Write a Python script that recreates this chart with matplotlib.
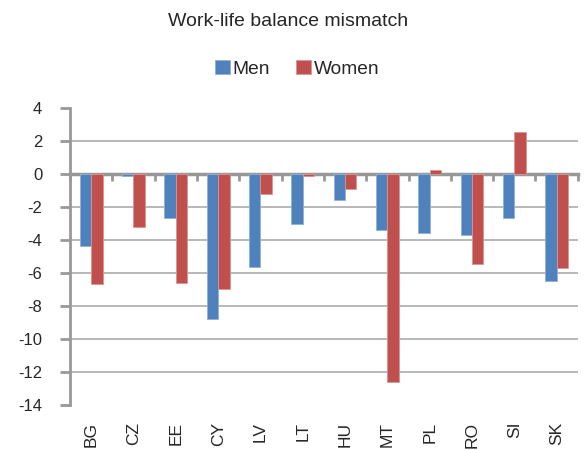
import numpy as np
import matplotlib
matplotlib.use("Agg")
import matplotlib.pyplot as plt

plt.rcParams['font.family'] = ['Liberation Sans', 'DejaVu Sans']
plt.rcParams['axes.unicode_minus'] = False

countries = ['BG', 'CZ', 'EE', 'CY', 'LV', 'LT', 'HU', 'MT', 'PL', 'RO', 'SI', 'SK']
men = [-4.37, -0.15, -2.64, -8.78, -5.62, -3.02, -1.57, -3.40, -3.60, -3.70, -2.64, -6.49]
women = [-6.67, -3.20, -6.59, -6.97, -1.21, -0.10, -0.91, -12.63, 0.22, -5.44, 2.54, -5.72]
y_ticks = list(range(-14, 5, 2))

blue = '#4F81BD'
red = '#C0504D'
axis_grey = '#989898'
text_col = '#262626'

fig = plt.figure(figsize=(5.85, 4.5), dpi=100)
ax = fig.add_axes([0.1197, 0.1, 0.868, 0.66])

x = np.arange(len(countries))
w = 0.27
ax.bar(x - w / 2, men, w, color=blue, edgecolor='#8FB0DA', linewidth=0.6, label='Men', zorder=3)
ax.bar(x + w / 2, women, w, color=red, edgecolor='#DA9594', linewidth=0.6, label='Women', zorder=3)

ax.set_xlim(-0.5, len(countries) - 0.5)
ax.set_ylim(-14, 4)
ax.set_yticks(y_ticks)
ax.set_yticklabels([str(v) for v in y_ticks])
ax.tick_params(axis='y', labelsize=12, length=7, width=2, color=axis_grey,
               labelcolor=text_col, pad=13)

# horizontal grid lines, skipping the top and bottom of the range
for v in y_ticks[1:-1]:
    if v != 0:
        ax.axhline(v, color='#ABABAB', linewidth=1.2, zorder=1)

for s in ['top', 'right', 'bottom']:
    ax.spines[s].set_visible(False)
ax.spines['left'].set_color(axis_grey)
ax.spines['left'].set_linewidth(2)

ax.set_xticks(x)
ax.set_xticklabels(countries, rotation=90, fontsize=12.5, color=text_col)
ax.tick_params(axis='x', length=0, pad=12)

# category axis drawn through zero with ticks between groups
zero_axis = ax.secondary_xaxis(0, transform=ax.transData)
zero_axis.set_xticks(np.arange(len(countries) + 1) - 0.5)
zero_axis.set_xticklabels([])
zero_axis.tick_params(length=5, width=2, color=axis_grey)
zero_axis.spines['bottom'].set_color(axis_grey)
zero_axis.spines['bottom'].set_linewidth(2.5)

fig.text(0.492, 0.943, 'Work-life balance mismatch', ha='center', va='baseline',
         fontsize=14, color=text_col)
fig.legend(loc='center', bbox_to_anchor=(0.508, 0.847), ncol=2, frameon=False,
           fontsize=13.8, handlelength=0.79, handleheight=0.7, handletextpad=0.12,
           columnspacing=1.37, labelcolor=text_col)

fig.savefig('out.png', dpi=100)
